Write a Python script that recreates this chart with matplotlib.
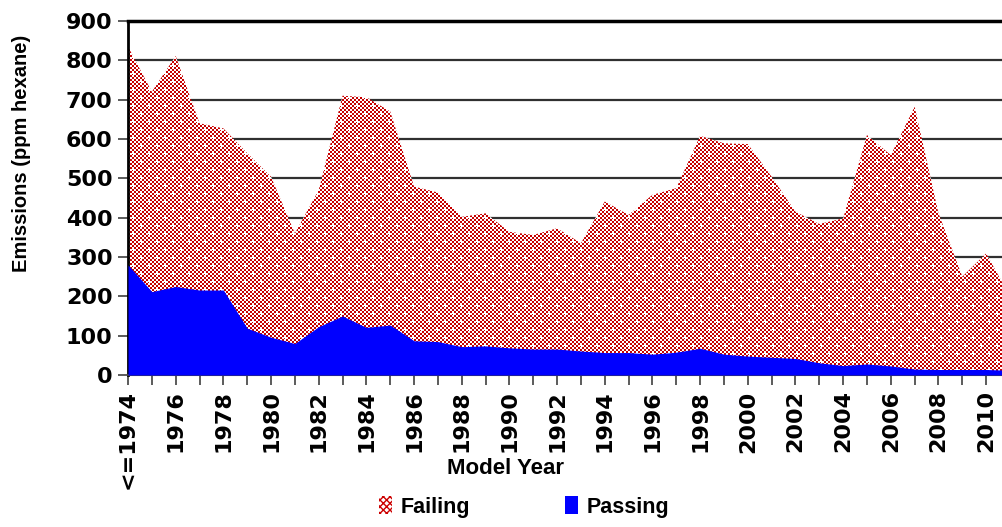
import numpy as np
import matplotlib
matplotlib.use("Agg")
import matplotlib.pyplot as plt
from matplotlib.patches import PathPatch, Patch
from matplotlib.path import Path

# Model years (first one is "<=1974")
years = np.arange(1974, 2012)
failing = [835, 720, 811, 640, 627, 564, 504, 360, 470, 710,
           706, 670, 479, 464, 402, 411, 364, 356, 373, 335,
           441, 407, 458, 475, 608, 589, 587, 504, 415, 384,
           398, 610, 559, 682, 411, 250, 309, 200]
passing = [280, 212, 225, 216, 216, 119, 96, 80, 123, 150,
           121, 127, 87, 85, 72, 74, 69, 66, 66, 61,
           57, 57, 53, 58, 68, 53, 48, 45, 42, 31,
           24, 28, 23, 15, 14, 14, 14, 12]
tick_years = list(range(1974, 2011, 2))
tick_labels = ["<=1974"] + [str(y) for y in tick_years[1:]]

W, H = 1003, 527
fig = plt.figure(figsize=(W / 100, H / 100), dpi=100)
ax = fig.add_axes([128 / W, 1 - 375 / H, (1010 - 128) / W, 354 / H])

# checker texture for the "Failing" area (red/white, with small white crosses)
ph, pw = 354, 882
ii, jj = np.mgrid[0:ph, 0:pw]
tex = ((ii // 2 + jj // 2) % 2 == 0)
row = ii % 8
col = (jj + 8 * ((ii // 8) % 2)) % 16
cross = ((row == 4) & (col >= 3) & (col <= 6)) | \
        ((col == 5) & (row >= 2) & (row <= 6))
tex = tex & ~cross
rgb = np.ones((ph, pw, 3))
rgb[tex] = [0.78, 0.0, 0.0]

im = ax.imshow(rgb, extent=(1974, 2011, 0, 900), aspect="auto",
               interpolation="nearest", zorder=2)
verts = [(years[0], 0)] + list(zip(years, failing)) + [(years[-1], 0), (years[0], 0)]
clip = PathPatch(Path(verts), transform=ax.transData, facecolor="none",
                 edgecolor="none")
ax.add_patch(clip)
im.set_clip_path(clip)

ax.fill_between(years, passing, color="#0000ff", lw=0, zorder=3)

ax.set_xlim(1974, 2011)
ax.set_ylim(0, 900)
ax.set_yticks(range(0, 901, 100))
ax.set_xticks(tick_years)
ax.set_xticks(years, minor=True)
ax.set_xticklabels(tick_labels, rotation=90, fontsize=16, fontweight="bold",
                   family="DejaVu Sans")
for t in ax.get_yticklabels():
    t.set_fontsize(16)
    t.set_fontweight("bold")
    t.set_family("DejaVu Sans")
ax.tick_params(axis="both", which="both", direction="out", length=7,
               width=1.2, color="#404040", pad=4)
ax.yaxis.grid(True, color="#303030", lw=1.6, zorder=0)
ax.set_axisbelow(True)

ax.spines["right"].set_visible(False)
ax.spines["top"].set_linewidth(2.5)
ax.spines["left"].set_linewidth(2)
ax.spines["bottom"].set_linewidth(1.5)
ax.spines["bottom"].set_color("#404040")

fig.text(22 / W, 1 - 153 / H, "Emissions (ppm hexane)", rotation=90,
         ha="center", va="center", fontsize=14.5, fontweight="bold",
         family="Liberation Sans")
fig.text(506 / W, 1 - 468 / H, "Model Year", ha="center", va="center",
         fontsize=16, fontweight="bold", family="Liberation Sans")

handles = [Patch(facecolor="white", edgecolor="#cc0000", hatch="xxxxx", lw=0),
           Patch(facecolor="#0000ff", lw=0)]
leg = fig.legend(handles, ["Failing", "Passing"], loc="center",
                 bbox_to_anchor=(524 / W, 1 - 507 / H), ncol=2, frameon=False,
                 prop={"family": "Liberation Sans", "weight": "bold", "size": 15.5},
                 handlelength=0.6, handleheight=0.9, handletextpad=0.4,
                 columnspacing=4.4)

fig.savefig("out.png", dpi=100)
